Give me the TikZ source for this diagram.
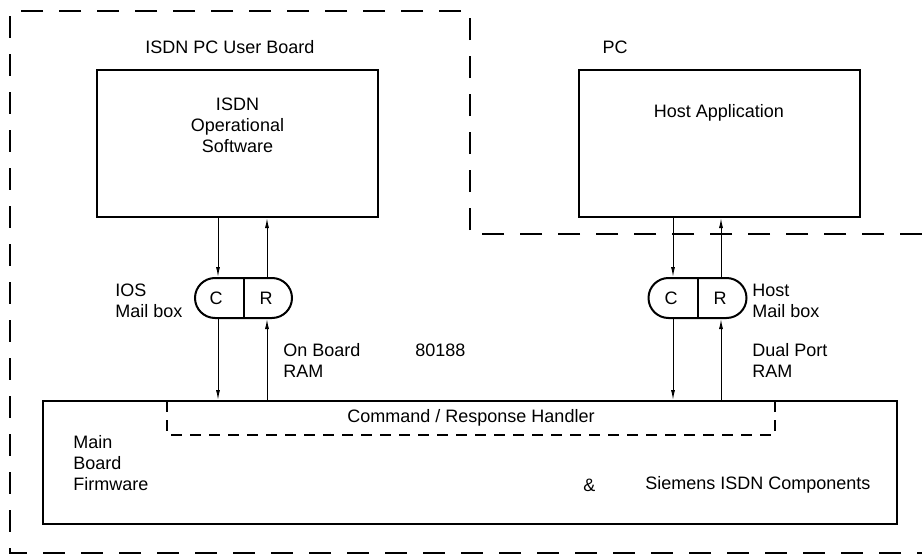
\documentclass[tikz,border=0pt]{standalone}
\usepackage{fontspec}
\setmainfont{Liberation Sans}
\usetikzlibrary{arrows.meta,calc,positioning}

\begin{document}
\begin{tikzpicture}[x=.5pt,y=-.5pt,font=\fontsize{9}{10.5}\selectfont,
    box/.style={draw,line width=1pt,inner sep=0pt},
    mailbox/.style={draw,line width=1pt,rounded corners=10pt,minimum height=20pt,inner sep=0pt},
    arr/.style={-{Latex[length=5pt,width=2pt]},line width=.5pt},
    lbl/.style={align=left,anchor=west,inner sep=0pt}]
  \useasboundingbox (0,0) rectangle (922,557);
  % board and PC borders
  \draw[line width=1.2pt,dash pattern=on 11pt off 8pt]
    (922,234) -- (470,234) -- (470,11) -- (10,11) -- (10,553) -- (922,553);
  \node (board) at (230,47) {ISDN PC User Board};
  \node (pc) at (615,47) {PC};
  % software blocks
  \node[box,minimum width=140.5pt,minimum height=73.5pt] (ios) at (237.5,143.5) {};
  \node[align=center] (iostxt) at (237.5,125) {ISDN\\Operational\\Software};
  \node[box,minimum width=140.5pt,minimum height=73.5pt] (host) at (719,143.5) {};
  \node (hosttxt) at (719,113) {Host Application};
  \node[box,minimum width=427pt,minimum height=61.5pt] (main) at (470,462.5) {};
  % mail boxes
  \node[mailbox,minimum width=48.5pt] (iosmb) at (243.5,298) {};
  \draw[line width=1pt] (iosmb.north) -- (iosmb.south);
  \node (iC) at (216,298) {C};
  \node (iR) at (266,298) {R};
  \node[mailbox,minimum width=49pt] (hostmb) at (697.5,298) {};
  \draw[line width=1pt] (hostmb.north) -- (hostmb.south);
  \node (hC) at (671,298) {C};
  \node (hR) at (720,298) {R};
  % commands and responses
  \foreach \c/\r/\up/\mb in {iC/iR/ios/iosmb,hC/hR/host/hostmb}{
    \draw[arr] ([xshift=1pt]\c |- \up.south) -- ([xshift=1pt]\c |- \mb.north);
    \draw[arr] ([xshift=.5pt]\r |- \mb.north) -- ([xshift=.5pt]\r |- \up.south);
    \draw[arr] ([xshift=1pt]\c |- \mb.south) -- ([xshift=1pt]\c |- main.north);
    \draw[arr] ([xshift=.5pt]\r |- main.north) -- ([xshift=.5pt]\r |- \mb.south);
  }
  % handler
  \node (handler) at (471,418) {Command / Response Handler};
  \draw[line width=.6pt,dash pattern=on 5.5pt off 4pt]
    (167,401) -- (167,435) -- (775,435) -- (775,401);
  % labels
  \node[lbl] (iosmbl) at (115,300.5) {IOS\\Mail box};
  \node[lbl] (hostmbl) at (752,300.5) {Host\\Mail box};
  \node[lbl] (onboard) at (283,360) {On Board\\RAM};
  \node[lbl] (cpu) at (415,350) {80188};
  \node[lbl] (dualport) at (752,360) {Dual Port\\RAM};
  \node[lbl] (firmware) at (73,463.5) {Main\\Board\\Firmware};
  \node[lbl] (amp) at (583,485) {\&};
  \node[lbl] (siemens) at (645,485) {Siemens ISDN Components};
\end{tikzpicture}
\end{document}
